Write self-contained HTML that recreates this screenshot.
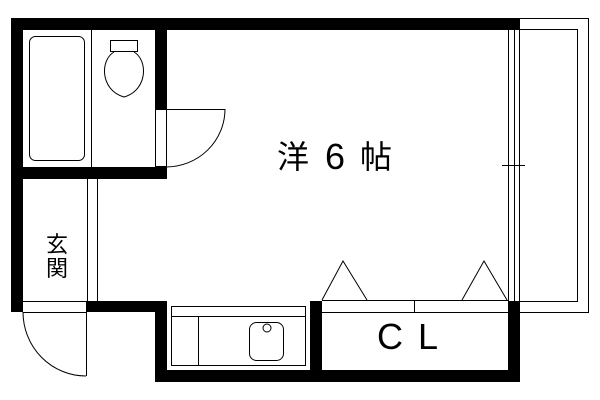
<!DOCTYPE html>
<html><head><meta charset="utf-8"><style>body{margin:0;background:#fff}svg{display:block}</style></head><body>
<svg width="600" height="400" viewBox="0 0 600 400" xmlns="http://www.w3.org/2000/svg">
<g fill="#000">
<rect x="11" y="18" width="509" height="12"/>
<rect x="11" y="18" width="12" height="294"/>
<rect x="155" y="18" width="12" height="91"/>
<rect x="11" y="167" width="156" height="12"/>
<rect x="86" y="301" width="81" height="11"/>
<rect x="155" y="301" width="12" height="81"/>
<rect x="155" y="370" width="365" height="12"/>
<rect x="310" y="301" width="12" height="81"/>
<rect x="508" y="301" width="12" height="81"/>
</g>
<g fill="none" stroke="#000" stroke-width="1">
<line x1="91.5" y1="30" x2="91.5" y2="167"/>
<rect x="29.5" y="36.5" width="55" height="124" rx="6"/>
<rect x="110.5" y="40.5" width="27" height="11"/>
<path d="M114 52 C100 60 100 90 124 97 C148 90 148 60 134 52"/>
<rect x="155.5" y="109.5" width="11" height="57"/>
<path d="M166 109.5 H225 A59 58 0 0 1 166 167"/>
<line x1="87.5" y1="179" x2="87.5" y2="301"/>
<line x1="97.5" y1="179" x2="97.5" y2="301"/>
<line x1="23" y1="301.5" x2="86" y2="301.5"/>
<line x1="23" y1="312.5" x2="86" y2="312.5"/>
<line x1="86.5" y1="312" x2="86.5" y2="376"/>
<path d="M23 312 A63 64 0 0 0 86 376"/>
<rect x="171.5" y="306.5" width="134" height="59"/>
<line x1="171" y1="316.5" x2="305" y2="316.5"/>
<line x1="198.5" y1="316" x2="198.5" y2="366"/>
<rect x="249.5" y="322.5" width="34" height="38" rx="7"/>
<circle cx="267" cy="328" r="4"/>
<line x1="322" y1="300.5" x2="508" y2="300.5"/>
<line x1="322" y1="312.5" x2="508" y2="312.5"/>
<line x1="414.5" y1="300" x2="414.5" y2="312"/>
<path d="M322 300 L343 261 L367 300"/>
<path d="M462 300 L484 261 L507 300"/>
<line x1="508.5" y1="30" x2="508.5" y2="301"/>
<line x1="514.5" y1="30" x2="514.5" y2="301"/>
<line x1="519.5" y1="30" x2="519.5" y2="301"/>
<line x1="502" y1="165.5" x2="525" y2="165.5"/>
<path d="M520 18.5 H588.5 V312.5 H520"/>
<path d="M520 29.5 H577.5 V301.5 H520"/>
</g>
<g font-family="'Liberation Sans','Noto Sans CJK JP',sans-serif" fill="#000">
<text x="277" y="168" font-size="32">洋</text>
<text x="325" y="169" font-size="36">6</text>
<text x="360" y="168" font-size="32">帖</text>
<text x="377" y="349" font-size="36">C</text>
<text x="418" y="349" font-size="36">L</text>
<text x="46" y="252" font-size="22">玄</text>
<text x="46" y="276" font-size="22">関</text>
</g>
</svg>
</body></html>
